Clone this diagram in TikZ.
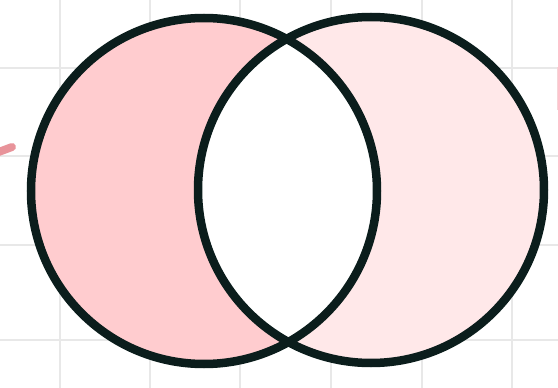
\documentclass[tikz,border=0pt]{standalone}
\usetikzlibrary{arrows.meta}
\definecolor{setA}{HTML}{FFCCCF}
\definecolor{setB}{HTML}{FFE8E9}
\definecolor{rim}{HTML}{0B1D1C}
\definecolor{gridgray}{HTML}{E8E8E8}
\definecolor{penpink}{HTML}{E8939A}

\begin{document}
\begin{tikzpicture}[x=1pt,y=-1pt,
  rim line/.style={line width=8.5pt,draw=rim},
  grid line/.style={gridgray,line width=2.5pt}]
\useasboundingbox (0,0) rectangle (558,388);
\fill[white] (0,0) rectangle (558,388);
% background grid
\foreach \gx in {60,150,240,331,422,512}
  \draw[grid line] (\gx,0) -- (\gx,388);
\foreach \gy in {68,156,245,340}
  \draw[grid line] (0,\gy) -- (558,\gy);
% the two sets
\coordinate (A) at (204,191);
\coordinate (B) at (371,190);
\fill[setA] (A) circle (173);
\fill[setB] (B) circle (173);
\begin{scope}
  \clip (A) circle (173);
  \fill[white] (B) circle (173);
\end{scope}
\draw[rim line] (A) circle (173);
\draw[rim line] (B) circle (173);
% pen marks at the edges
\draw[penpink,line width=8pt,line cap=round] (-4,153) -- (12,147);
\draw[penpink!40,line width=1pt] (557,67) -- (557,110);
\end{tikzpicture}
\end{document}
